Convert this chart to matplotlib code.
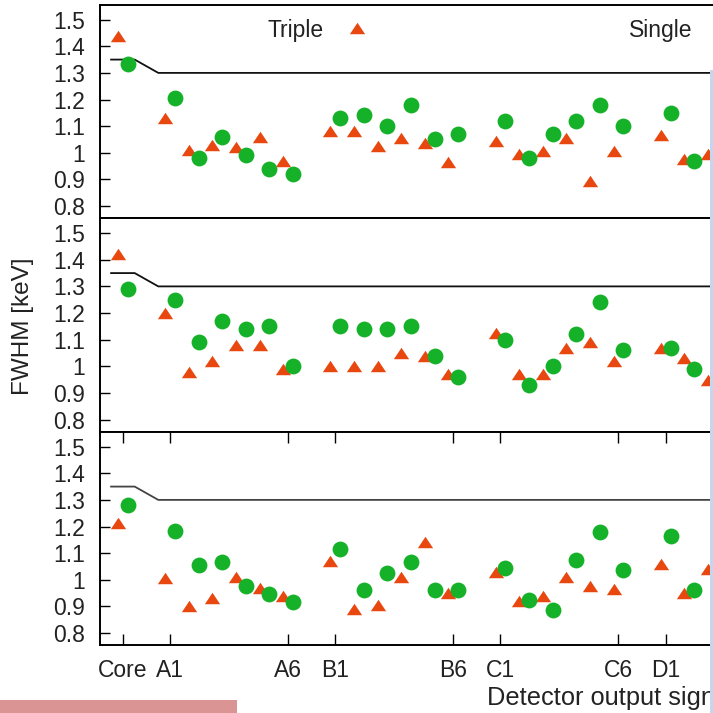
import matplotlib
matplotlib.use('Agg')
import matplotlib.pyplot as plt
from matplotlib.patches import Rectangle
from matplotlib.path import Path
from matplotlib.lines import Line2D

plt.rcParams['font.family'] = ['Liberation Sans', 'DejaVu Sans']

# channel names, Core then segments A1..D3 (the rest is cut off in the picture)
channels = ['Core',
            'A1', 'A2', 'A3', 'A4', 'A5', 'A6',
            'B1', 'B2', 'B3', 'B4', 'B5', 'B6',
            'C1', 'C2', 'C3', 'C4', 'C5', 'C6',
            'D1', 'D2', 'D3']
tick_labels = ['Core', 'A1', 'A6', 'B1', 'B6', 'C1', 'C6', 'D1']

# FWHM [keV], one pair of series per panel
top_triple = [1.44, 1.13, 1.01, 1.03, 1.02, 1.06, 0.97, 1.08, 1.08, 1.025, 1.055, 1.035, 0.965,
              1.045, 0.995, 1.005, 1.055, 0.895, 1.005, 1.065, 0.975, 0.995]
top_single = [1.335, 1.205, 0.98, 1.06, 0.99, 0.94, 0.92, 1.13, 1.14, 1.10, 1.18, 1.05, 1.07,
              1.12, 0.98, 1.07, 1.12, 1.18, 1.10, 1.15, 0.97, 0.975]
mid_triple = [1.42, 1.20, 0.98, 1.02, 1.08, 1.08, 0.99, 1.00, 1.00, 1.00, 1.05, 1.04, 0.97,
              1.125, 0.97, 0.97, 1.07, 1.09, 1.02, 1.07, 1.03, 0.95]
mid_single = [1.29, 1.25, 1.09, 1.17, 1.14, 1.15, 1.00, 1.15, 1.14, 1.14, 1.15, 1.04, 0.96,
              1.10, 0.93, 1.00, 1.12, 1.24, 1.06, 1.07, 0.99, 0.98]
bot_triple = [1.215, 1.005, 0.90, 0.93, 1.01, 0.97, 0.94, 1.07, 0.89, 0.905, 1.01, 1.14, 0.95,
              1.03, 0.92, 0.94, 1.01, 0.975, 0.965, 1.06, 0.95, 1.04]
bot_single = [1.28, 1.185, 1.055, 1.065, 0.975, 0.945, 0.915, 1.115, 0.96, 1.025, 1.065, 0.96, 0.96,
              1.045, 0.925, 0.885, 1.075, 1.18, 1.035, 1.165, 0.96, 1.035]

# spec limit line
limit_x = [-0.5, 0.5, 1.5, 45]
limit_y = [1.35, 1.35, 1.30, 1.30]


def chan_pos(name):
    if name == 'Core':
        return 0
    g = ord(name[0]) - ord('A')
    return 2 + 7 * g + int(name[1:]) - 1


xpos = [chan_pos(c) for c in channels]
tick_pos = [chan_pos(c) for c in tick_labels]

RED = '#E8480F'
GREEN = '#15B229'
TXT = '#222222'
FS = 16.5
tri = Path([(-1, -0.75), (1, -0.75), (0, 0.75), (-1, -0.75)],
           [Path.MOVETO, Path.LINETO, Path.LINETO, Path.CLOSEPOLY])

W, H = 713, 713
fig = plt.figure(figsize=(W / 100, H / 100), dpi=100)

px_per_unit = 23.6
xmin, xmax = -0.97, 43.0
ax_w = (xmax - xmin) * px_per_unit
panels = [(5, top_triple, top_single, '#111111'),
          (218.5, mid_triple, mid_single, '#111111'),
          (432, bot_triple, bot_single, '#444444')]
axes = []
for i, (ytop, tv, sv, lc) in enumerate(panels):
    ax = fig.add_axes([100 / W, 1 - (ytop + 213) / H, ax_w / W, 213 / H])
    ax.plot(limit_x, limit_y, color=lc, lw=1.3, zorder=2)
    ax.plot([p - 0.21 for p in xpos], tv, ls='none', marker=tri, ms=11,
            color=RED, mec='none', zorder=3)
    ax.plot([p + 0.21 for p in xpos], sv, ls='none', marker='o', ms=11.4,
            color=GREEN, mec='none', zorder=4)
    ax.set_xlim(xmin, xmax)
    ax.set_ylim(0.755, 1.555)
    ax.set_yticks([0.8, 0.9, 1.0, 1.1, 1.2, 1.3, 1.4, 1.5])
    ax.set_yticklabels(['0.8', '0.9', '1', '1.1', '1.2', '1.3', '1.4', '1.5'])
    ax.tick_params(axis='y', direction='in', length=7, width=1.0, pad=11,
                   labelsize=FS, labelcolor=TXT, right=True)
    if i < 2:
        ax.set_xticks([])
    else:
        ax.set_xticks(tick_pos)
        ax.set_xticklabels(tick_labels)
        ax.tick_params(axis='x', direction='in', length=8, width=1.0, pad=10,
                       labelsize=FS, labelcolor=TXT, top=True)
    for s in ax.spines.values():
        s.set_linewidth(1.4)
    axes.append(ax)

# legend entries in the top panel, text before the symbol
h_tri = Line2D([], [], ls='none', marker=tri, ms=11, color=RED, mec='none')
h_circ = Line2D([], [], ls='none', marker='o', ms=11.4, color=GREEN, mec='none')
leg1 = axes[0].legend([h_tri], ['Triple'], loc='center left', markerfirst=False,
                      bbox_to_anchor=((267 - 100) / ax_w, (218 - 30) / 213),
                      frameon=False, borderpad=0, borderaxespad=0, handlelength=1.0,
                      handletextpad=1.0, fontsize=FS, labelcolor=TXT)
axes[0].add_artist(leg1)
axes[0].legend([h_circ], ['Single'], loc='center left', markerfirst=False,
               bbox_to_anchor=((629 - 100) / ax_w, (218 - 30) / 213),
               frameon=False, borderpad=0, borderaxespad=0, handlelength=1.0,
               handletextpad=1.6, fontsize=FS, labelcolor=TXT)

fig.text(23 / W, 1 - 326 / H, 'FWHM [keV]', rotation=90, ha='center', va='center',
         fontsize=17.5, color=TXT)
fig.text(487 / W, 1 - 698 / H, 'Detector output signals', ha='left', va='center',
         fontsize=18.3, color=TXT)

# screenshot artefacts: pink bar bottom left, blue edge on the right
fig.patches.append(Rectangle((0, 0), 237 / W, 13 / H, transform=fig.transFigure,
                             facecolor='#DA9494', edgecolor='none', zorder=10))
fig.patches.append(Rectangle((709.5 / W, 0), 3.5 / W, 643 / H, transform=fig.transFigure,
                             facecolor='#C3D7F0', edgecolor='none', zorder=10))

fig.savefig('out.png', dpi=100)
